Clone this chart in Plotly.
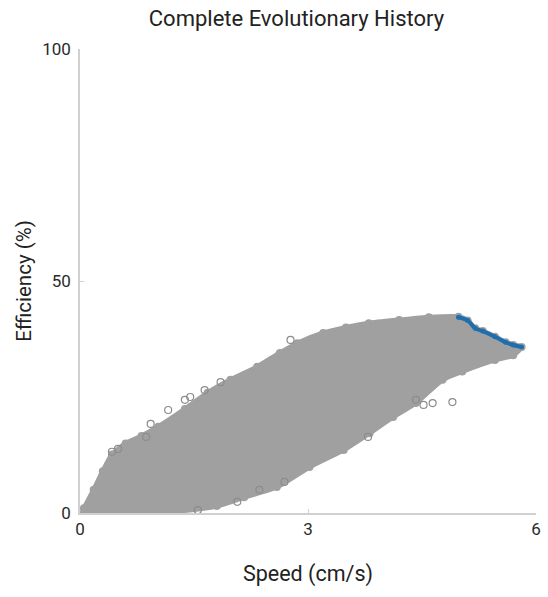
import plotly.graph_objects as go

# Outline of the dense cloud of evaluated designs (speed cm/s, efficiency %)
upper_x = [0.05, 0.18, 0.30, 0.42, 0.60, 0.81, 1.03, 1.38, 1.68, 1.98, 2.33, 2.63, 2.86, 3.20, 3.50, 3.80, 4.20, 4.59, 4.98]
upper_y = [1.0, 5.0, 9.0, 12.6, 15.0, 16.6, 18.6, 22.4, 25.9, 28.7, 31.5, 34.5, 36.6, 38.8, 40.0, 40.9, 41.6, 42.2, 42.3]
lower_x = [5.81, 5.70, 5.46, 5.03, 4.77, 4.42, 4.12, 3.81, 3.47, 3.02, 2.59, 2.16, 1.80, 1.29, 0.80, 0.30, 0.05]
lower_y = [35.8, 34.0, 33.0, 30.5, 28.7, 23.7, 20.7, 17.2, 13.6, 9.9, 5.6, 3.4, 1.5, 0.4, 0.0, 0.0, 0.0]

# Pareto front (blue)
front_x = [4.98, 5.10, 5.20, 5.30, 5.46, 5.60, 5.70, 5.81]
front_y = [42.2, 41.5, 39.8, 39.2, 38.0, 36.8, 36.2, 35.8]

# Scattered outlying designs (open circles)
out_x = [0.42, 0.50, 0.87, 0.93, 1.16, 1.38, 1.45, 1.64, 1.85, 2.77, 1.55, 2.07, 2.36, 2.69, 3.79, 4.42, 4.52, 4.64, 4.90]
out_y = [13.2, 13.8, 16.4, 19.2, 22.2, 24.4, 25.0, 26.5, 28.2, 37.3, 0.6, 2.4, 5.0, 6.7, 16.4, 24.4, 23.3, 23.7, 23.9]

x_ticks = [0, 3, 6]
y_ticks = [0, 50, 100]

GRAY = "#a0a0a0"
BLUE = "#1f6fae"

cloud_x = upper_x + front_x[1:] + lower_x[1:]
cloud_y = upper_y + front_y[1:] + lower_y[1:]

fig = go.Figure()
fig.add_trace(go.Scatter(
    x=cloud_x, y=cloud_y, mode="lines", fill="toself",
    fillcolor=GRAY, line=dict(color=GRAY, width=5, shape="spline", smoothing=0.6),
    hoverinfo="skip", showlegend=False))
fig.add_trace(go.Scatter(
    x=cloud_x, y=cloud_y, mode="markers",
    marker=dict(symbol="circle", size=8, color=GRAY),
    hoverinfo="skip", showlegend=False))
fig.add_trace(go.Scatter(
    x=out_x, y=out_y, mode="markers",
    marker=dict(symbol="circle-open", size=7, color="#8c8c8c", line=dict(width=1.2)),
    showlegend=False))
fig.add_trace(go.Scatter(
    x=front_x, y=front_y, mode="lines+markers",
    line=dict(color=BLUE, width=4, shape="spline"),
    marker=dict(symbol="circle", size=5, color=BLUE),
    showlegend=False))

FONT = "Roboto, sans-serif"
fig.update_layout(
    width=548, height=597,
    margin=dict(l=80, r=7, t=49, b=84),
    paper_bgcolor="white", plot_bgcolor="white",
    font=dict(family=FONT, color="#333333"),
    title=dict(text="Complete Evolutionary History", x=0.541, xanchor="center",
               y=0.97, yanchor="middle", font=dict(size=22, color="#222222")),
)
fig.update_xaxes(
    range=[0, 6], tickvals=x_ticks, ticktext=[str(v) for v in x_ticks],
    showgrid=False, zeroline=False, showline=True, linecolor="#d0d0d0", linewidth=1.5,
    ticks="inside", ticklen=4, tickcolor="#d0d0d0",
    tickfont=dict(size=17, color="#2a2a2a"),
    title=dict(text="Speed (cm/s)", font=dict(size=21.5, color="#222222"), standoff=28),
)
fig.update_yaxes(
    range=[0, 100], tickvals=y_ticks, ticktext=[str(v) for v in y_ticks],
    showgrid=False, zeroline=False, showline=True, linecolor="#d0d0d0", linewidth=1.5,
    ticks="inside", ticklen=4, tickcolor="#d0d0d0", ticklabelstandoff=4,
    tickfont=dict(size=17, color="#2a2a2a"),
    title=dict(text="Efficiency (%)", font=dict(size=20.5, color="#222222"), standoff=5),
)

fig.write_html("out.html")
